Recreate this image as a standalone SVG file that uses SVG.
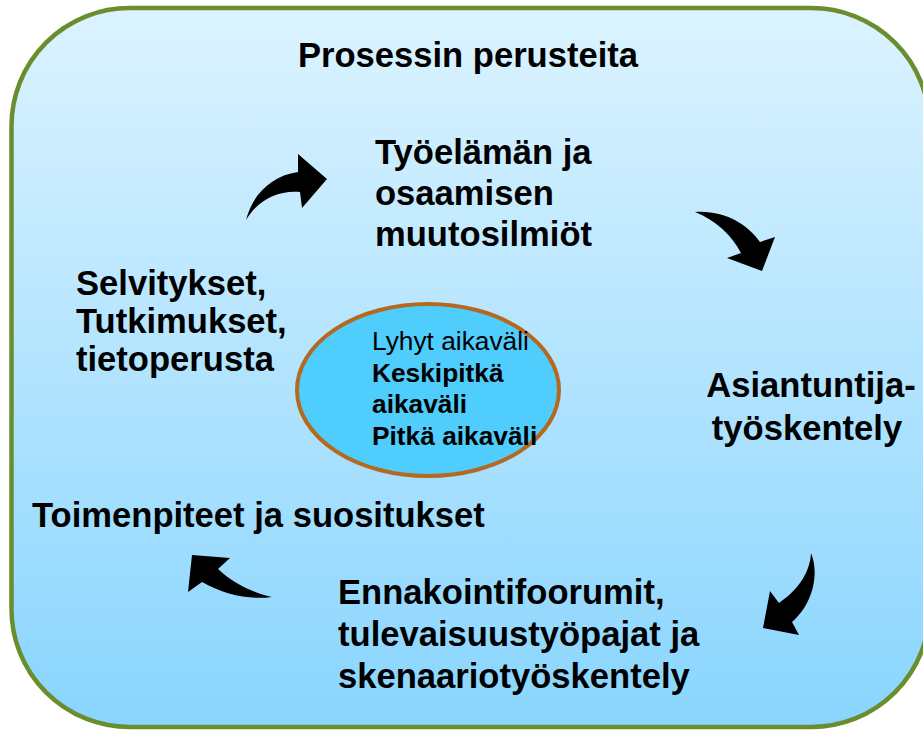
<svg xmlns="http://www.w3.org/2000/svg" width="923" height="732" viewBox="0 0 923 732">
<defs>
<linearGradient id="bg" x1="0" y1="0" x2="0" y2="1">
<stop offset="0" stop-color="#DCF3FF"/>
<stop offset="1" stop-color="#89D5FE"/>
</linearGradient>
<style>
.t{font-family:"Liberation Sans",Arial,sans-serif;font-weight:bold;font-size:34.6px;fill:#000}
.s{font-family:"Liberation Sans",Arial,sans-serif;font-size:26.3px;fill:#000}
.sb{font-weight:bold}
.arr{fill:#000}
</style>
</defs>
<rect x="11.5" y="8" width="918" height="719" rx="118" ry="118" fill="url(#bg)" stroke="#6A8E2E" stroke-width="4.5"/>
<g id="title"><text class="t" x="468" y="67" text-anchor="middle">Prosessin perusteita</text></g>
<g id="tyoelama"><text class="t" x="375" y="164">Työelämän ja</text><text class="t" x="375" y="205">osaamisen</text><text class="t" x="375" y="246">muutosilmiöt</text></g>
<g id="asiantuntija"><text class="t" x="811" y="397" text-anchor="middle">Asiantuntija-</text><text class="t" x="807" y="440" text-anchor="middle">työskentely</text></g>
<g id="ennakointi"><text class="t" x="338" y="604">Ennakointifoorumit,</text><text class="t" x="338" y="646">tulevaisuustyöpajat ja</text><text class="t" x="338" y="688">skenaariotyöskentely</text></g>
<g id="toimenpiteet"><text class="t" x="32" y="527">Toimenpiteet ja suositukset</text></g>
<g id="selvitykset"><text class="t" x="76" y="295">Selvitykset,</text><text class="t" x="76" y="333">Tutkimukset,</text><text class="t" x="76" y="371">tietoperusta</text></g>
<g id="center">
<ellipse cx="428" cy="390" rx="131" ry="86" fill="#4FCDFD" stroke="#B5691F" stroke-width="4"/>
<text class="s" x="372" y="350">Lyhyt aikaväli</text>
<text class="s sb" x="372" y="382">Keskipitkä</text>
<text class="s sb" x="372" y="413">aikaväli</text>
<text class="s sb" x="372" y="445">Pitkä aikaväli</text>
</g>
<g id="connectors">
<path class="arr" d="M246,220 C252,196 270,176 298,172 L298,154 L327,179 L302,208 L300,192 C278,190 258,200 246,220 Z"/>
<path class="arr" d="M695,212 C725,210 748,225 760,242 L775,237 L762,271 L727,258 L741,253 C732,235 715,220 695,212 Z"/>
<path class="arr" d="M811,553 C820,575 812,605 792,622 L799,635 L763,628 L770,591 L779,603 C795,592 810,575 811,553 Z"/>
<path class="arr" d="M272,597 C250,600 225,595 202,582 L188,592 L192,555 L230,558 L218,569 C235,585 255,593 272,597 Z"/>
</g>
</svg>
